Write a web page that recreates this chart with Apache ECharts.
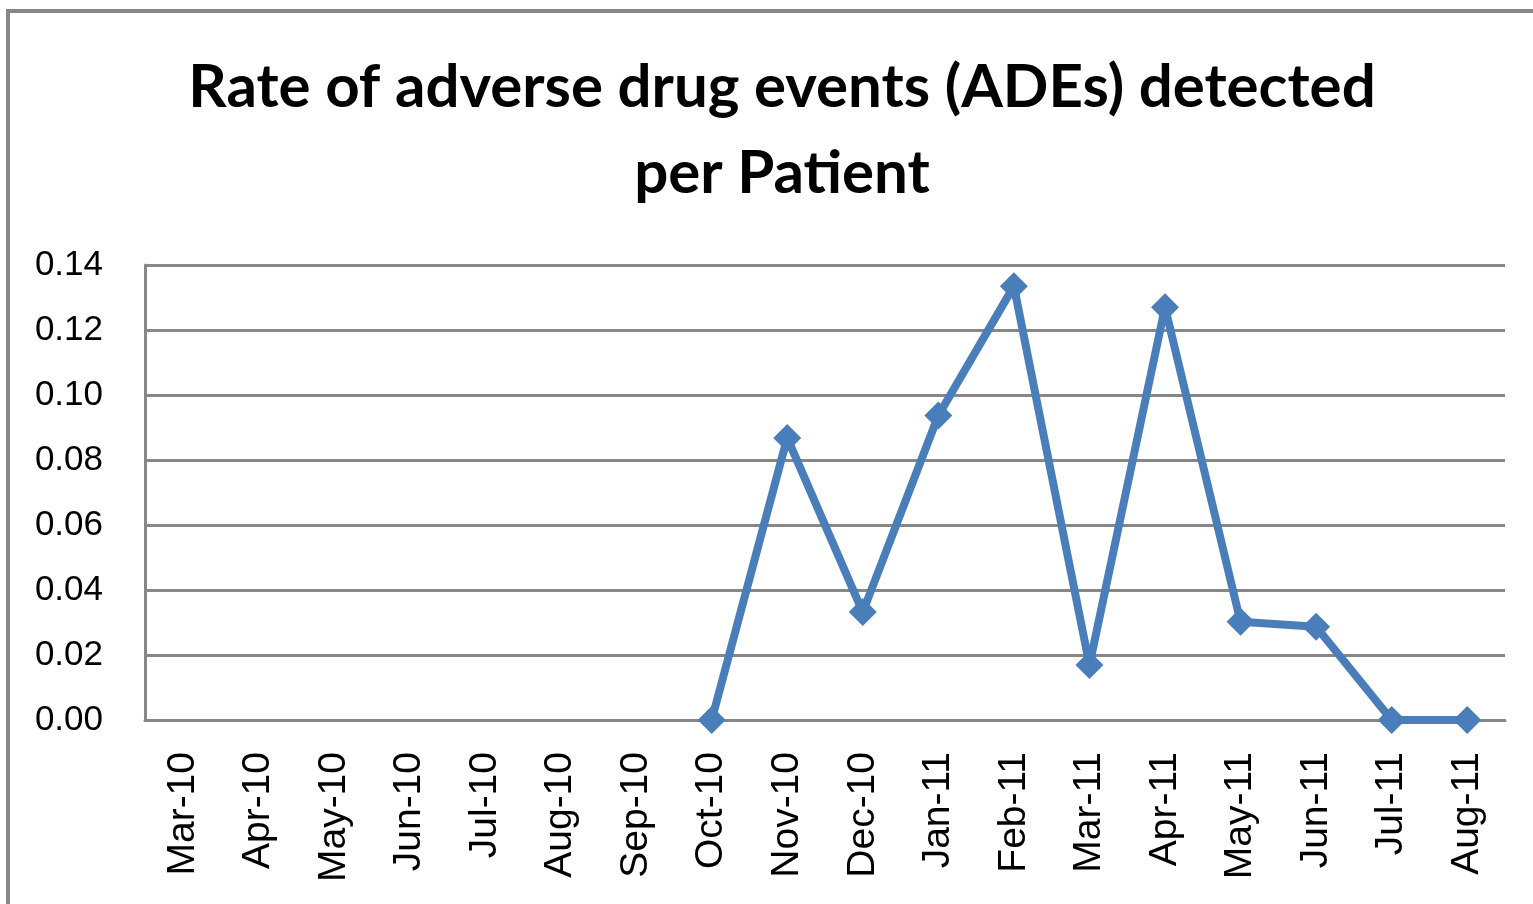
<!DOCTYPE html>
<html>
<head>
<meta charset="utf-8">
<script src="https://cdn.jsdelivr.net/npm/echarts@6/dist/echarts.min.js"></script>
<style>
  html, body { margin: 0; padding: 0; background: #fff; }
  #chart { width: 1533px; height: 904px; }
</style>
</head>
<body>
<div id="chart"></div>
<script>
  var months = ['Mar-10', 'Apr-10', 'May-10', 'Jun-10', 'Jul-10', 'Aug-10', 'Sep-10', 'Oct-10', 'Nov-10',
    'Dec-10', 'Jan-11', 'Feb-11', 'Mar-11', 'Apr-11', 'May-11', 'Jun-11', 'Jul-11', 'Aug-11'];
  // no data before Oct-10
  var adeRate = [null, null, null, null, null, null, null, 0, 0.0868,
    0.0332, 0.0937, 0.1335, 0.0169, 0.127, 0.0302, 0.0287, 0, 0];
  var yTicks = [0, 0.02, 0.04, 0.06, 0.08, 0.10, 0.12, 0.14];

  var lineColor = '#4a7ebb';
  var gridColor = '#878787';

  var option = {
    backgroundColor: '#fff',
    animation: false,
    title: {
      text: 'Rate of adverse drug events (ADEs) detected\nper Patient',
      left: 777,
      top: 40,
      textAlign: 'center',
      textStyle: {
        fontFamily: 'Lato',
        fontWeight: 'bold',
        fontSize: 60,
        lineHeight: 86,
        color: '#000'
      }
    },
    graphic: [{
      type: 'rect',
      shape: { x: 8, y: 11, width: 1540, height: 910 },
      style: { fill: 'none', stroke: gridColor, lineWidth: 4 },
      silent: true
    }],
    grid: {
      left: 145,
      right: 28,
      top: 265,
      bottom: 184,
      containLabel: false
    },
    xAxis: {
      type: 'category',
      data: months,
      boundaryGap: true,
      axisLine: { show: true, lineStyle: { color: gridColor, width: 3 } },
      axisTick: { show: false },
      axisLabel: {
        rotate: 90,
        interval: 0,
        margin: 32,
        fontFamily: 'Liberation Sans',
        fontSize: 39,
        color: '#000'
      },
      splitLine: { show: false }
    },
    yAxis: {
      type: 'value',
      min: yTicks[0],
      max: yTicks[yTicks.length - 1],
      interval: 0.02,
      axisLine: { show: true, lineStyle: { color: gridColor, width: 3 } },
      axisTick: { show: false },
      axisLabel: {
        margin: 42,
        fontFamily: 'Liberation Sans',
        fontSize: 35,
        color: '#000',
        formatter: function (v) { return v.toFixed(2); }
      },
      splitLine: { show: true, lineStyle: { color: gridColor, width: 3 } }
    },
    series: [{
      name: 'ADE rate',
      type: 'line',
      data: adeRate,
      connectNulls: false,
      symbol: 'diamond',
      symbolSize: 28,
      lineStyle: { color: lineColor, width: 8 },
      itemStyle: { color: lineColor }
    }]
  };

  var myChart = echarts.init(document.getElementById('chart'));
  myChart.setOption(option, true);
</script>
</body>
</html>
